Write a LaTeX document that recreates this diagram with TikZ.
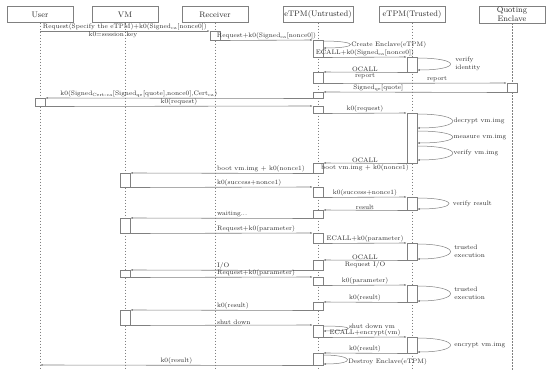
\documentclass[tikz,border=0pt]{standalone}
\usepackage{xcolor}
\usepackage{tikz}
\usetikzlibrary{positioning, arrows.meta}
\definecolor{lineGray}{HTML}{808080}
\definecolor{inkGray}{HTML}{2B2B2B}

\begin{document}
\begin{tikzpicture}[x=1pt,y=-1pt]
    \tikzset{hd/.style={draw=lineGray,fill=white,minimum width=66,minimum height=16,inner sep=1pt,align=center,text=inkGray,font=\fontsize{8}{9}\selectfont},
      life/.style={draw=lineGray,line width=0.4pt,dash pattern=on 1.5pt off 1.5pt},
      act/.style={draw=lineGray,fill=white,line width=0.5pt,minimum width=10,minimum height=#1,inner sep=0pt,anchor=north},
      msg/.style={draw=lineGray,line width=0.6pt,-{Latex[length=2.5pt,width=2pt]}},
      selfmsg/.style={msg,line width=0.5pt},
      lbl/.style={inner sep=0.8pt,text=inkGray,font=\fontsize{6.5}{7.5}\selectfont}}
    \useasboundingbox (0,0) rectangle (550,373);
    % participants
    \node[hd] (user) at (40,14.5) {User};
    \node[hd] (vm) at (125,14.5) {VM};
    \node[hd] (rcv) at (215,14.5) {Receiver};
    \node[hd] (eu) at (318,14.5) {eTPM(Untrusted)};
    \node[hd] (et) at (412,14.5) {eTPM(Trusted)};
    \node[hd] (qe) at (512,14.5) {Quoting\\Enclave};
    \foreach \p in {user,vm,rcv,eu,et,qe}
      \draw[life] (\p.south) -- (\p.south |- 0,370);
    % activations
    \node[act=9] (r1) at (215,31) {};
    \node[act=17] (e1) at (318,40) {};
    \node[act=15] (t1) at (412,57) {};
    \node[act=11] (e2) at (318,72) {};
    \node[act=9] (q1) at (512,83) {};
    \node[act=6] (e3) at (318,92) {};
    \node[act=8] (u1) at (40,98) {};
    \node[act=7] (e4) at (318,106) {};
    \node[act=50] (t2) at (412,113) {};
    \node[act=10] (e5) at (318,163) {};
    \node[act=14] (v1) at (125,173) {};
    \node[act=10] (e6) at (318,187) {};
    \node[act=13] (t3) at (412,197) {};
    \node[act=8] (e7) at (318,210) {};
    \node[act=15] (v2) at (125,218) {};
    \node[act=10] (e8) at (318,233) {};
    \node[act=17] (t4) at (412,243) {};
    \node[act=10] (e9) at (318,260) {};
    \node[act=7] (v3) at (125,270) {};
    \node[act=8] (e10) at (318,277) {};
    \node[act=17] (t5) at (412,285) {};
    \node[act=8] (e11) at (318,302) {};
    \node[act=15] (v4) at (125,310) {};
    \node[act=12] (e12) at (318,325) {};
    \node[act=16] (t6) at (412,337) {};
    \node[act=12] (e13) at (318,353) {};
    \coordinate (ustart) at (40,31);
    \coordinate (uend) at (40,365);
    % attestation
    \draw[msg] (ustart) -- node[lbl,above] {Request(Specify the eTPM)+k0(Signed\textsubscript{ca}[nonce0])} node[lbl,below,pos=.43] {k0=session key} (r1.north west);
    \draw[msg] (r1.south east) -- node[lbl,above] {Request+k0(Signed\textsubscript{ca}[nonce0])} (e1.north west);
    \draw[selfmsg] ([yshift=-1pt]e1.north east) .. controls +(36,0) and +(36,0) .. node[lbl,anchor=west] {Create Enclave(eTPM)} ([yshift=-8pt]e1.north east);
    \draw[msg] (e1.south east) -- node[lbl,above] {ECALL+k0(Signed\textsubscript{ca}[nonce0])} (t1.north west);
    \draw[selfmsg] ([yshift=-1pt]t1.north east) .. controls +(44,0) and +(44,0) .. node[lbl,anchor=west,align=left,xshift=4pt] {verify\\identity} ([yshift=-13pt]t1.north east);
    \draw[msg] (t1.south west) -- node[lbl,above] {OCALL} node[lbl,below] {report} (e2.north east);
    \draw[msg] (e2.south east) -- node[lbl,above,pos=.62] {report} (q1.north west);
    \draw[msg] (q1.south west) -- node[lbl,above,pos=.7] {Signed\textsubscript{qe}[quote]} (e3.north east);
    \draw[msg] (e3.south west) -- node[lbl,above,pos=.65] {k0(Signed\textsubscript{Cert-ca}[Signed\textsubscript{qe}[quote],nonce0],Cert\textsubscript{ca})} (u1.north east);
    % boot
    \draw[msg] (u1.south east) -- node[lbl,above] {k0(request)} (e4.north west);
    \draw[msg] (e4.south east) -- node[lbl,above] {k0(request)} (t2.north west);
    \foreach \a/\b/\t in {1/15/decrypt,18/30/measure,33/47/verify}
      \draw[selfmsg] ([yshift=-\a pt]t2.north east) .. controls +(47,0) and +(47,0) .. node[lbl,anchor=west] {\t\ vm.img} ([yshift=-\b pt]t2.north east);
    \draw[msg] (t2.south west) -- node[lbl,above] {OCALL} node[lbl,below] {boot vm.img + k0(nonce1)} (e5.north east);
    \draw[msg] (e5.south west) -- node[lbl,anchor=south west,pos=.53] {boot vm.img + k0(nonce1)} (v1.north east);
    \draw[msg] (v1.south east) -- node[lbl,anchor=south west,pos=.47] {k0(success+nonce1)} (e6.north west);
    \draw[msg] (e6.south east) -- node[lbl,above] {k0(success+nonce1)} (t3.north west);
    \draw[selfmsg] ([yshift=-1pt]t3.north east) .. controls +(42,0) and +(42,0) .. node[lbl,anchor=west,xshift=3pt] {verify result} ([yshift=-12pt]t3.north east);
    \draw[msg] (t3.south west) -- node[lbl,above] {result} (e7.north east);
    \draw[msg] (e7.south west) -- node[lbl,anchor=south west,pos=.53] {waiting...} (v2.north east);
    % execution
    \draw[msg] (v2.south east) -- node[lbl,anchor=south west,pos=.47] {Request+k0(parameter)} (e8.north west);
    \draw[msg] (e8.south east) -- node[lbl,above] {ECALL+k0(parameter)} (t4.north west);
    \draw[selfmsg] ([yshift=-1pt]t4.north east) .. controls +(44,0) and +(44,0) .. node[lbl,anchor=west,align=left,xshift=3pt] {trusted\\execution} ([yshift=-16pt]t4.north east);
    \draw[msg] (t4.south west) -- node[lbl,above] {OCALL} node[lbl,below] {Request I/O} (e9.north east);
    \draw[msg] (e9.south west) -- node[lbl,anchor=south west,pos=.53] {I/O} (v3.north east);
    \draw[msg] (v3.south east) -- node[lbl,anchor=south west,pos=.47] {Request+k0(parameter)} (e10.north west);
    \draw[msg] (e10.south east) -- node[lbl,above] {k0(parameter)} (t5.north west);
    \draw[selfmsg] ([yshift=-1pt]t5.north east) .. controls +(44,0) and +(44,0) .. node[lbl,anchor=west,align=left,xshift=3pt] {trusted\\execution} ([yshift=-16pt]t5.north east);
    \draw[msg] (t5.south west) -- node[lbl,above] {k0(result)} (e11.north east);
    \draw[msg] (e11.south west) -- node[lbl,anchor=south west,pos=.53] {k0(result)} (v4.north east);
    % shutdown
    \draw[msg] (v4.south east) -- node[lbl,anchor=south west,pos=.47] {shut down} (e12.north west);
    \draw[selfmsg] ([yshift=-1pt]e12.north east) .. controls +(36,0) and +(30,0) .. node[lbl,anchor=west,yshift=2.5pt] {shut down vm} ([yshift=-6pt]e12.north east);
    \draw[msg] (e12.south east) -- node[lbl,above] {ECALL+encrypt(vm)} (t6.north west);
    \draw[selfmsg] ([yshift=-1pt]t6.north east) .. controls +(44,0) and +(44,0) .. node[lbl,anchor=west,xshift=3pt] {encrypt vm.img} ([yshift=-15pt]t6.north east);
    \draw[msg] (t6.south west) -- node[lbl,above] {k0(result)} (e13.north east);
    \draw[selfmsg] ([yshift=-2pt]e13.north east) .. controls +(30,0) and +(34,0) .. node[lbl,anchor=west,yshift=-2pt] {Destroy Enclave(eTPM)} ([yshift=-11pt]e13.north east);
    \draw[msg] (e13.south west) -- node[lbl,above] {k0(result)} (uend);
  \end{tikzpicture}
\end{document}
